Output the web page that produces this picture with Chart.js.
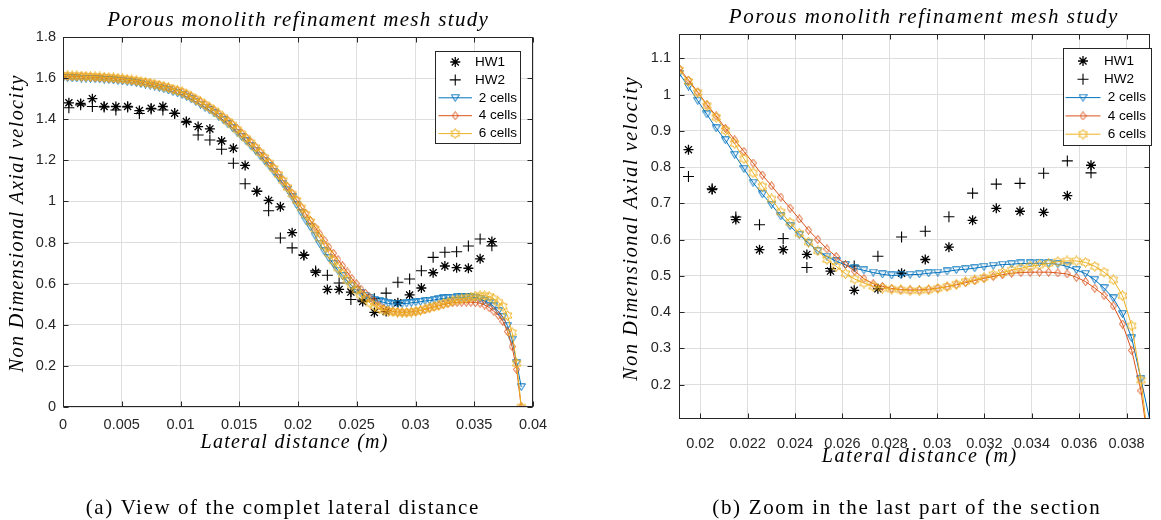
<!DOCTYPE html>
<html>
<head>
<meta charset="utf-8">
<script src="https://cdn.jsdelivr.net/npm/chart.js@4.4.1/dist/chart.umd.min.js"></script>
<style>
  body { margin: 0; background: #fff; width: 1161px; height: 520px; overflow: hidden; position: relative; }
  .pane { position: absolute; top: 0; height: 520px; }
</style>
</head>
<body>
<div class="pane" style="left:0;width:580px"><canvas id="fullChart"></canvas></div>
<div class="pane" style="left:580px;width:581px"><canvas id="zoomChart"></canvas></div>
<script>
// lateral positions of the CFD profiles (m)
const cfdX = [
  0, 0.00039, 0.00078, 0.00117, 0.00156, 0.00195, 0.00234, 0.00273, 0.00312, 0.00351,
  0.0039, 0.00429, 0.00468, 0.00507, 0.00546, 0.00585, 0.00624, 0.00663, 0.00702, 0.00741,
  0.0078, 0.00819, 0.00858, 0.00897, 0.00936, 0.00975, 0.01014, 0.01053, 0.01092, 0.01131,
  0.0117, 0.01209, 0.01248, 0.01287, 0.01326, 0.01365, 0.01404, 0.01443, 0.01482, 0.01521,
  0.0156, 0.01599, 0.01638, 0.01677, 0.01716, 0.01755, 0.01794, 0.01833, 0.01872, 0.01911,
  0.0195, 0.01989, 0.02028, 0.02067, 0.02106, 0.02145, 0.02184, 0.02223, 0.02262, 0.02301,
  0.0234, 0.02379, 0.02418, 0.02457, 0.02496, 0.02535, 0.02574, 0.02613, 0.02652, 0.02691,
  0.0273, 0.02769, 0.02808, 0.02847, 0.02886, 0.02925, 0.02964, 0.03003, 0.03042, 0.03081,
  0.0312, 0.03159, 0.03198, 0.03237, 0.03276, 0.03315, 0.03354, 0.03393, 0.03432, 0.03471,
  0.0351, 0.03549, 0.03588, 0.03627, 0.03666, 0.03705, 0.03744, 0.03783, 0.03822, 0.03861,
  0.039
];

const cells2 = [
  1.600, 1.600, 1.599, 1.599, 1.598, 1.597, 1.596, 1.595, 1.594, 1.592,
  1.591, 1.589, 1.587, 1.585, 1.582, 1.579, 1.576, 1.572, 1.568, 1.564,
  1.559, 1.552, 1.546, 1.540, 1.533, 1.526, 1.519, 1.508, 1.496, 1.484,
  1.471, 1.457, 1.443, 1.428, 1.412, 1.395, 1.375, 1.357, 1.335, 1.314,
  1.292, 1.270, 1.247, 1.223, 1.198, 1.172, 1.145, 1.116, 1.087, 1.058,
  1.022, 0.983, 0.945, 0.907, 0.874, 0.834, 0.795, 0.757, 0.725, 0.696,
  0.664, 0.637, 0.613, 0.590, 0.568, 0.553, 0.540, 0.530, 0.521, 0.515,
  0.509, 0.504, 0.501, 0.502, 0.503, 0.504, 0.507, 0.509, 0.512, 0.516,
  0.518, 0.521, 0.525, 0.528, 0.531, 0.532, 0.534, 0.534, 0.535, 0.534,
  0.532, 0.526, 0.516, 0.506, 0.489, 0.466, 0.438, 0.395, 0.328, 0.215,
  0.097
];

const cells4 = [
  1.609, 1.609, 1.608, 1.608, 1.607, 1.606, 1.605, 1.604, 1.603, 1.601,
  1.600, 1.598, 1.596, 1.594, 1.591, 1.588, 1.585, 1.581, 1.577, 1.573,
  1.568, 1.565, 1.559, 1.553, 1.546, 1.539, 1.532, 1.521, 1.509, 1.497,
  1.484, 1.470, 1.456, 1.441, 1.425, 1.408, 1.393, 1.375, 1.353, 1.332,
  1.310, 1.288, 1.265, 1.241, 1.216, 1.190, 1.163, 1.134, 1.104, 1.072,
  1.040, 1.007, 0.972, 0.941, 0.907, 0.875, 0.843, 0.811, 0.778, 0.748,
  0.717, 0.687, 0.657, 0.626, 0.600, 0.574, 0.553, 0.531, 0.513, 0.492,
  0.478, 0.471, 0.465, 0.462, 0.461, 0.461, 0.463, 0.466, 0.470, 0.475,
  0.481, 0.487, 0.493, 0.498, 0.503, 0.507, 0.509, 0.510, 0.510, 0.510,
  0.508, 0.505, 0.496, 0.484, 0.466, 0.446, 0.417, 0.367, 0.294, 0.183,
  0.000
];

const cells6 = [
  1.612, 1.612, 1.611, 1.611, 1.610, 1.609, 1.608, 1.607, 1.606, 1.604,
  1.603, 1.601, 1.599, 1.597, 1.594, 1.591, 1.588, 1.584, 1.580, 1.576,
  1.571, 1.566, 1.560, 1.554, 1.547, 1.540, 1.533, 1.522, 1.510, 1.498,
  1.485, 1.471, 1.457, 1.442, 1.426, 1.409, 1.390, 1.372, 1.350, 1.329,
  1.307, 1.285, 1.262, 1.238, 1.213, 1.187, 1.160, 1.131, 1.101, 1.068,
  1.036, 1.005, 0.969, 0.937, 0.901, 0.865, 0.823, 0.784, 0.747, 0.712,
  0.676, 0.647, 0.617, 0.593, 0.569, 0.545, 0.526, 0.506, 0.491, 0.480,
  0.471, 0.466, 0.463, 0.461, 0.459, 0.459, 0.461, 0.465, 0.470, 0.477,
  0.484, 0.489, 0.495, 0.503, 0.509, 0.516, 0.521, 0.526, 0.530, 0.534,
  0.539, 0.541, 0.541, 0.537, 0.526, 0.510, 0.489, 0.445, 0.362, 0.212,
  0.000
];

// hot wire measurements
const hwX = [
  0.0005, 0.0015, 0.0025, 0.0035, 0.0045, 0.0055, 0.0065, 0.0075, 0.0085, 0.0095,
  0.0105, 0.0115, 0.0125, 0.0135, 0.0145, 0.0155, 0.0165, 0.0175, 0.0185, 0.0195,
  0.0205, 0.0215, 0.0225, 0.0235, 0.0245, 0.0255, 0.0265, 0.0275, 0.0285, 0.0295,
  0.0305, 0.0315, 0.0325, 0.0335, 0.0345, 0.0355, 0.0365
];
const hw1 = [
  1.480, 1.477, 1.500, 1.462, 1.462, 1.462, 1.442, 1.453, 1.462, 1.429,
  1.389, 1.364, 1.353, 1.294, 1.259, 1.175, 1.049, 1.005, 0.974, 0.848,
  0.738, 0.655, 0.572, 0.572, 0.559, 0.513, 0.460, 0.464, 0.507, 0.545,
  0.579, 0.653, 0.686, 0.678, 0.675, 0.721, 0.805
];
const hw2 = [
  1.456, 1.470, 1.462, 1.460, 1.445, 1.460, 1.428, 1.450, 1.445, 1.428,
  1.385, 1.323, 1.299, 1.254, 1.186, 1.086, 1.050, 0.955, 0.822, 0.774,
  0.740, 0.662, 0.641, 0.603, 0.523, 0.520, 0.527, 0.554, 0.607, 0.623,
  0.663, 0.728, 0.753, 0.755, 0.783, 0.817, 0.784
];

const seriesNames = ['HW1', 'HW2', ' 2 cells', ' 4 cells', ' 6 cells'];

const fullXTicks = [0, 0.005, 0.01, 0.015, 0.02, 0.025, 0.03, 0.035, 0.04];
const fullYTicks = [0, 0.2, 0.4, 0.6, 0.8, 1, 1.2, 1.4, 1.6, 1.8];
const zoomXTicks = [0.02, 0.022, 0.024, 0.026, 0.028, 0.03, 0.032, 0.034, 0.036, 0.038];
const zoomYTicks = [0.2, 0.3, 0.4, 0.5, 0.6, 0.7, 0.8, 0.9, 1, 1.1];

const titleText = 'Porous monolith refinament mesh study';
const xLabelText = 'Lateral distance (m)';
const yLabelText = 'Non Dimensional Axial velocity';
const captionA = '(a) View of the complet lateral distance';
const captionB = '(b) Zoom in the last part of the section';

const BLUE = '#0072BD', ORANGE = '#D95319', YELLOW = '#EDB120', AXIS = '#262626';
const SANS = '"Liberation Sans", Arial, sans-serif';
const SERIF = '"Liberation Serif", "Times New Roman", serif';

// marker images (MATLAB v, d, h)
function marker(w, h, color, draw) {
  const c = document.createElement('canvas');
  c.width = w; c.height = h;
  const g = c.getContext('2d');
  g.strokeStyle = color; g.lineWidth = 1;
  g.beginPath(); draw(g, w, h); g.closePath(); g.stroke();
  return c;
}
const triDown = marker(9, 8, BLUE, (g, w, h) => {
  g.moveTo(0.5, 0.8); g.lineTo(w - 0.5, 0.8); g.lineTo(w / 2, h - 0.5);
});
const diamond = marker(7, 9, ORANGE, (g, w, h) => {
  g.moveTo(w / 2, 0.5); g.lineTo(w - 0.5, h / 2); g.lineTo(w / 2, h - 0.5); g.lineTo(0.5, h / 2);
});
const hexagram = marker(11, 11, YELLOW, (g, w, h) => {
  const cx = w / 2, cy = h / 2, ro = 5, ri = ro / Math.sqrt(3);
  for (let k = 0; k < 12; k++) {
    const r = k % 2 ? ri : ro;
    const a = -Math.PI / 2 + k * Math.PI / 6;
    const px = cx + r * Math.cos(a), py = cy + r * Math.sin(a);
    k ? g.lineTo(px, py) : g.moveTo(px, py);
  }
});

const pts = (xs, ys) => xs.map((x, i) => ({ x: x, y: ys[i] }));

function buildDatasets() {
  return [
    { label: seriesNames[0], data: pts(hwX, hw1), showLine: false, pointStyle: 'star', pointRadius: 5,
      borderColor: '#000', pointBorderColor: '#000', pointBorderWidth: 1.3, order: 5 },
    { label: seriesNames[1], data: pts(hwX, hw2), showLine: false, pointStyle: 'cross', pointRadius: 5.5,
      borderColor: '#000', pointBorderColor: '#000', pointBorderWidth: 1.1, order: 4 },
    { label: seriesNames[2], data: pts(cfdX, cells2), borderColor: BLUE, borderWidth: 1, pointStyle: triDown,
      pointRadius: 4, order: 3 },
    { label: seriesNames[3], data: pts(cfdX, cells4), borderColor: ORANGE, borderWidth: 1, pointStyle: diamond,
      pointRadius: 4, order: 2 },
    { label: seriesNames[4], data: pts(cfdX, cells6), borderColor: YELLOW, borderWidth: 1, pointStyle: hexagram,
      pointRadius: 4, order: 1 }
  ];
}

const legendRows = [
  { line: false, style: 'star', radius: 5, width: 1.3, color: '#000' },
  { line: false, style: 'cross', radius: 5.5, width: 1.1, color: '#000' },
  { line: true, style: triDown, radius: 4, width: 1, color: BLUE },
  { line: true, style: diamond, radius: 4, width: 1, color: ORANGE },
  { line: true, style: hexagram, radius: 4, width: 1, color: YELLOW }
];

function spacedText(ctx, text, x, y, font, width) {
  ctx.font = font;
  ctx.letterSpacing = '0px';
  const natural = ctx.measureText(text).width;
  const sp = Math.max(0, (width - natural) / text.length);
  ctx.letterSpacing = sp + 'px';
  ctx.fillText(text, x + sp / 2, y);
  ctx.letterSpacing = '0px';
}

const framePlugin = {
  id: 'frame',
  afterDraw(chart, args, o) {
    const { ctx, chartArea: a, scales } = chart;
    const L = Math.round(a.left) + 0.5, R = Math.round(a.right) - 0.5;
    const T = Math.round(a.top) + 0.5, B = Math.round(a.bottom) - 0.5;
    ctx.save();
    ctx.strokeStyle = AXIS;
    ctx.lineWidth = 1;
    ctx.beginPath();
    scales.x.ticks.forEach(t => {
      const px = Math.round(scales.x.getPixelForValue(t.value)) + 0.5;
      ctx.moveTo(px, B); ctx.lineTo(px, B - 5);
      ctx.moveTo(px, T); ctx.lineTo(px, T + 5);
    });
    scales.y.ticks.forEach(t => {
      const py = Math.round(scales.y.getPixelForValue(t.value)) + 0.5;
      ctx.moveTo(L, py); ctx.lineTo(L + 5, py);
      ctx.moveTo(R, py); ctx.lineTo(R - 5, py);
    });
    ctx.stroke();
    ctx.strokeRect(L, T, R - L, B - T);

    // legend box
    const lg = o.legend;
    ctx.fillStyle = '#fff';
    ctx.fillRect(lg.x, lg.y, lg.w, lg.h);
    ctx.strokeRect(lg.x + 0.5, lg.y + 0.5, lg.w, lg.h);
    legendRows.forEach((row, i) => {
      const ry = lg.row0 + i * lg.step;
      ctx.strokeStyle = row.color;
      ctx.lineWidth = 1;
      if (row.line) {
        ctx.beginPath();
        ctx.moveTo(lg.lineX0, ry); ctx.lineTo(lg.lineX1, ry);
        ctx.stroke();
      }
      ctx.lineWidth = row.width;
      Chart.helpers.drawPoint(ctx, { pointStyle: row.style, radius: row.radius, rotation: 0, borderWidth: row.width },
        (lg.lineX0 + lg.lineX1) / 2, ry);
      ctx.fillStyle = '#000';
      ctx.font = '13.5px ' + SANS;
      ctx.textAlign = 'left';
      ctx.textBaseline = 'middle';
      ctx.fillText(seriesNames[i], lg.textX, ry);
    });

    // titles and labels (LaTeX-like serif)
    ctx.fillStyle = '#000';
    ctx.textAlign = 'center';
    ctx.textBaseline = 'middle';
    spacedText(ctx, titleText, o.title.x, o.title.y, 'italic 21px ' + SERIF, o.title.w);
    spacedText(ctx, xLabelText, o.xLabel.x, o.xLabel.y, 'italic 20px ' + SERIF, o.xLabel.w);
    spacedText(ctx, o.caption.text, o.caption.x, o.caption.y, '21px ' + SERIF, o.caption.w);
    ctx.save();
    ctx.translate(o.yLabel.x, o.yLabel.y);
    ctx.rotate(-Math.PI / 2);
    spacedText(ctx, yLabelText, 0, 0, 'italic 20px ' + SERIF, o.yLabel.w);
    ctx.restore();
    ctx.restore();
  }
};

const fmt = v => String(+Number(v).toFixed(4));

function makeChart(id, c) {
  return new Chart(document.getElementById(id), {
    type: 'line',
    data: { datasets: buildDatasets() },
    options: {
      responsive: true,
      maintainAspectRatio: false,
      devicePixelRatio: 1,
      animation: false,
      events: [],
      layout: { padding: c.padding },
      plugins: {
        legend: { display: false },
        tooltip: { enabled: false },
        frame: c.frame
      },
      scales: {
        x: {
          type: 'linear',
          min: c.xMin, max: c.xMax,
          afterFit: s => { s.height = c.xAxisH; },
          afterBuildTicks: s => { s.ticks = c.xTicks.map(v => ({ value: v })); },
          grid: { color: '#dedede', lineWidth: 1, drawTicks: false },
          border: { display: false },
          ticks: { color: AXIS, padding: c.xPad, maxRotation: 0, autoSkip: false,
                   font: { family: SANS, size: 14.5 }, callback: fmt }
        },
        y: {
          type: 'linear',
          min: c.yMin, max: c.yMax,
          afterFit: s => { s.width = c.yAxisW; },
          afterBuildTicks: s => { s.ticks = c.yTicks.map(v => ({ value: v })); },
          grid: { color: '#dedede', lineWidth: 1, drawTicks: false },
          border: { display: false },
          ticks: { color: AXIS, padding: c.yPad, autoSkip: false,
                   font: { family: SANS, size: 14.5 }, callback: fmt }
        }
      }
    },
    plugins: [framePlugin]
  });
}

// (a) complete lateral distance
makeChart('fullChart', {
  padding: { left: 0, top: 37, right: 47, bottom: 0 },
  xAxisH: 113, yAxisW: 63, xPad: 9, yPad: 7,
  xMin: 0, xMax: 0.04, yMin: 0, yMax: 1.8,
  xTicks: fullXTicks, yTicks: fullYTicks,
  frame: {
    legend: { x: 435, y: 51, w: 85, h: 92, row0: 62, step: 17.9, lineX0: 438.5, lineX1: 472, textX: 475 },
    title: { x: 297.5, y: 20, w: 382 },
    xLabel: { x: 294, y: 443, w: 188 },
    yLabel: { x: 18, y: 224, w: 298 },
    caption: { text: captionA, x: 282, y: 508, w: 394 }
  }
});

// (b) zoom on the last part of the section
makeChart('zoomChart', {
  padding: { left: 0, top: 34, right: 0, bottom: 0 },
  xAxisH: 101, yAxisW: 99, xPad: 16, yPad: 8,
  xMin: 0.0191, xMax: 0.03901, yMin: 0.105, yMax: 1.167,
  xTicks: zoomXTicks, yTicks: zoomYTicks,
  frame: {
    legend: { x: 483, y: 48, w: 88, h: 97, row0: 61, step: 18.3, lineX0: 485.5, lineX1: 520.5, textX: 524 },
    title: { x: 343, y: 17, w: 390 },
    xLabel: { x: 339, y: 457, w: 196 },
    yLabel: { x: 52, y: 229, w: 305 },
    caption: { text: captionB, x: 326, y: 508, w: 389 }
  }
});
</script>
</body>
</html>
